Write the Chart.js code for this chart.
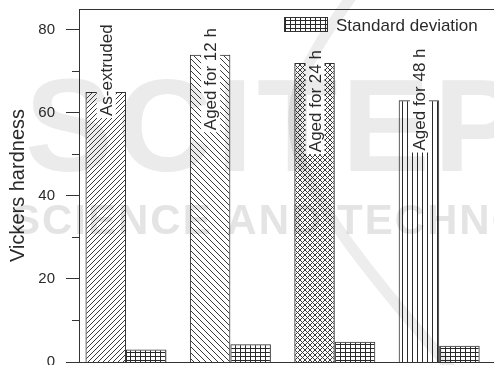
<!DOCTYPE html>
<html>
<head>
<meta charset="utf-8">
<style>
  html, body { margin: 0; padding: 0; background: #ffffff; }
  #wrap { width: 494px; height: 365px; }
</style>
<script src="https://cdn.jsdelivr.net/npm/chart.js@4.4.1/dist/chart.umd.min.js"></script>
</head>
<body>
<div id="wrap"><canvas id="chart" width="494" height="365"></canvas></div>
<script>
// Sample conditions and measured Vickers hardness
const categories = ['As-extruded', 'Aged for 12 h', 'Aged for 24 h', 'Aged for 48 h'];
const hardness = [65, 74, 72, 63];
const stdDeviation = [3.0, 4.3, 4.9, 3.9];
const seriesNames = ['Vickers hardness', 'Standard deviation'];
const yMajorTicks = [0, 20, 40, 60, 80];
const yMinorTicks = [10, 30, 50, 70];

const FONT = '"Liberation Sans", Arial, sans-serif';
const INK = '#2a2a2a';

// ---- hatch fills ----
function tile(w, h, paint) {
  const c = document.createElement('canvas');
  c.width = w; c.height = h;
  const g = c.getContext('2d');
  g.strokeStyle = '#3a3a3a';
  g.fillStyle = '#2a2a2a';
  g.lineWidth = 1;
  paint(g, w, h);
  return g.createPattern(c, 'repeat');
}
function slashUp(g, s) {      // "/" lines
  g.beginPath();
  for (let k = -1; k <= 1; k++) { g.moveTo(k * s, s); g.lineTo(k * s + s, 0); }
  g.stroke();
}
function slashDown(g, s) {    // "\" lines
  g.beginPath();
  for (let k = -1; k <= 1; k++) { g.moveTo(k * s, 0); g.lineTo(k * s + s, s); }
  g.stroke();
}
const hatchFills = [
  tile(5, 5, g => slashUp(g, 5)),
  tile(6, 6, g => slashDown(g, 6)),
  tile(5, 5, g => { slashUp(g, 5); slashDown(g, 5); }),
  tile(5, 5, g => g.fillRect(2, 0, 1, 5))
];
const gridFill = tile(5, 4, g => { g.fillRect(0, 0, 5, 1); g.fillRect(0, 0, 1, 4); });

// ---- frame, ticks, in-bar labels, legend ----
const decorations = {
  id: 'decorations',
  afterDatasetsDraw(chart, args, opts) {
    const { ctx, chartArea: a, scales: { y } } = chart;
    ctx.save();
    ctx.strokeStyle = '#333';
    ctx.lineWidth = 1;
    ctx.beginPath();
    ctx.moveTo(a.left + 0.5, a.top + 0.5); ctx.lineTo(a.right, a.top + 0.5);
    ctx.moveTo(a.left + 0.5, a.top); ctx.lineTo(a.left + 0.5, a.bottom + 1);
    ctx.moveTo(a.left, a.bottom + 0.5); ctx.lineTo(a.right, a.bottom + 0.5);
    yMajorTicks.forEach(v => {
      const p = Math.floor(y.getPixelForValue(v)) + 0.5;
      ctx.moveTo(a.left - 13, p); ctx.lineTo(a.left, p);
    });
    yMinorTicks.forEach(v => {
      const p = Math.floor(y.getPixelForValue(v)) + 0.5;
      ctx.moveTo(a.left - 7, p); ctx.lineTo(a.left, p);
    });
    ctx.stroke();

    // rotated sample names on the hardness bars
    ctx.font = '17px ' + FONT;
    ctx.textAlign = 'right';
    ctx.textBaseline = 'alphabetic';
    const bars = chart.getDatasetMeta(0).data;
    bars.forEach((bar, i) => {
      const txt = categories[i];
      const w = ctx.measureText(txt).width;
      ctx.save();
      ctx.translate(bar.x, y.getPixelForValue(opts.labelEnds[i]));
      ctx.rotate(-Math.PI / 2);
      ctx.fillStyle = '#ffffff';
      ctx.fillRect(-w - 2, -9, w + 4, 19);
      ctx.fillStyle = INK;
      ctx.fillText(txt, 0, 6);
      ctx.restore();
    });

    // legend entry for the deviation bars
    const lx = a.left + 205, ly = a.top + 8;
    ctx.fillStyle = gridFill;
    ctx.fillRect(lx, ly, 44, 15);
    ctx.strokeStyle = '#333';
    ctx.strokeRect(lx + 0.5, ly + 0.5, 43, 14);
    ctx.fillStyle = INK;
    ctx.textAlign = 'left';
    ctx.fillText(seriesNames[1], lx + 52, ly + 14);
    ctx.restore();
  },
  afterDraw(chart) {
    // faint publisher mark over the plot
    const { ctx } = chart;
    ctx.save();
    ctx.globalCompositeOperation = 'multiply';
    ctx.textAlign = 'left';
    ctx.textBaseline = 'alphabetic';
    ctx.fillStyle = '#ebebeb';
    ctx.font = 'bold 132px ' + FONT;
    ctx.letterSpacing = '4px';
    ctx.fillText('SCITEPRESS', 25, 171);
    ctx.fillStyle = '#e4e4e4';
    ctx.font = 'bold 42px ' + FONT;
    ctx.letterSpacing = '2px';
    ctx.fillText('SCIENCE AND TECHNOLOGY PUBLICATIONS', 12, 234);
    ctx.strokeStyle = '#ededed';
    ctx.lineWidth = 11;
    ctx.lineCap = 'round';
    ctx.beginPath();
    ctx.moveTo(352, -4);
    ctx.bezierCurveTo(262, 120, 262, 150, 452, 370);
    ctx.stroke();
    ctx.restore();
  }
};

new Chart(document.getElementById('chart'), {
  type: 'bar',
  data: {
    datasets: [
      {
        label: seriesNames[0],
        data: hardness.map((v, i) => ({ x: i, y: v })),
        backgroundColor: hatchFills,
        borderColor: '#333',
        borderWidth: 1
      },
      {
        label: seriesNames[1],
        data: stdDeviation.map((v, i) => ({ x: i, y: v })),
        backgroundColor: gridFill,
        borderColor: '#333',
        borderWidth: 1
      }
    ]
  },
  options: {
    responsive: false,
    animation: false,
    devicePixelRatio: 1,
    layout: { padding: { top: 9, right: 0, bottom: 3, left: 0 } },
    datasets: { bar: { categoryPercentage: 0.776, barPercentage: 1 } },
    scales: {
      x: {
        type: 'linear',
        min: -0.45,
        max: 3.525,
        offset: false,
        display: false,
        afterBuildTicks(scale) { scale.ticks = categories.map((c, i) => ({ value: i })); }
      },
      y: {
        min: 0,
        max: 85,
        afterFit(scale) {
          scale.width = 79;
          scale.paddingTop = 0;
          scale.paddingBottom = 0;
        },
        afterBuildTicks(scale) { scale.ticks = yMajorTicks.map(v => ({ value: v })); },
        grid: { display: false, drawTicks: false },
        border: { display: false },
        ticks: { padding: 24, color: INK, font: { family: FONT, size: 15 } },
        title: {
          display: true,
          text: seriesNames[0],
          color: INK,
          font: { family: FONT, size: 20 },
          padding: { top: 6, bottom: 0 }
        }
      }
    },
    plugins: {
      legend: { display: false },
      tooltip: { enabled: false },
      decorations: { labelEnds: [81.3, 80.4, 75.1, 75.5] }
    }
  },
  plugins: [decorations]
});
</script>
</body>
</html>
